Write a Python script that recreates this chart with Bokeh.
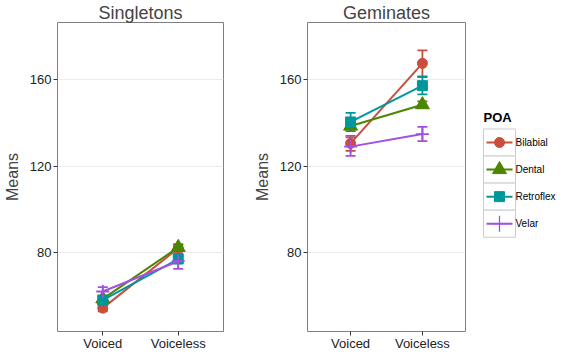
from bokeh.plotting import figure
from bokeh.layouts import row
from bokeh.models import Range1d, FixedTicker, Whisker, TeeHead, ColumnDataSource
from bokeh.embed import file_html
from bokeh.resources import INLINE
from bokeh.core.properties import value

# ---- data ----
voicing = ["Voiced", "Voiceless"]
poa = ["Bilabial", "Dental", "Retroflex", "Velar"]
colors = ["#C84E3E", "#4E8500", "#00979A", "#A34FE2"]
markers = ["circle", "triangle", "square", "cross"]
msizes = [10, 14, 10, 13]

sing_means = [[54.3, 82.0], [58.6, 82.4], [58.0, 77.0], [62.0, 76.0]]
sing_err = [[1.5, 1.5], [1.5, 1.5], [1.5, 1.5], [2.0, 3.5]]
gem_means = [[130.5, 167.5], [138.5, 148.4], [140.4, 157.2], [129.0, 134.8]]
gem_err = [[3.5, 6.0], [1.5, 1.5], [4.2, 4.0], [4.3, 3.3]]
y_ticks = [80, 120, 160]

FONT = "Liberation Sans"
xpos = [1, 2]


def panel(title, means, errs, frame_w, border_right):
    p = figure(frame_width=frame_w, frame_height=309, output_backend="svg", toolbar_location=None,
               x_range=Range1d(0.4, 2.6), y_range=Range1d(43.5, 186.4),
               min_border_left=55, min_border_right=border_right,
               min_border_top=19, min_border_bottom=18, title=title)
    p.title.text_font = FONT
    p.title.text_font_size = "18px"
    p.title.text_font_style = "normal"
    p.title.align = "center"
    p.title.standoff = 0
    p.title.offset = 0
    p.outline_line_color = "#7F7F7F"
    p.outline_line_width = 1
    p.xgrid.grid_line_color = None
    p.ygrid.grid_line_color = "#EBEBEB"
    p.ygrid.grid_line_width = 1
    p.xaxis.ticker = FixedTicker(ticks=xpos)
    p.xaxis.major_label_overrides = {1: voicing[0], 2: voicing[1]}
    p.yaxis.ticker = FixedTicker(ticks=y_ticks)
    p.yaxis.axis_label = "Means"
    for ax in (p.xaxis[0], p.yaxis[0]):
        ax.axis_line_color = None
        ax.major_tick_in = 0
        ax.major_tick_out = 4
        ax.minor_tick_in = 0
        ax.minor_tick_out = 0
        ax.major_tick_line_color = "#333333"
        ax.major_label_text_font = FONT
        ax.major_label_text_font_size = "13px"
        ax.major_label_text_color = "#222222"
        ax.axis_label_text_font = FONT
        ax.axis_label_text_font_size = "16px"
        ax.axis_label_text_font_style = "normal"
    p.yaxis.major_label_standoff = 2
    p.yaxis.axis_label_standoff = 6
    p.xaxis.major_label_standoff = 0
    p.xaxis.axis_label_standoff = 0
    for i in range(len(poa)):
        c = colors[i]
        src = ColumnDataSource(dict(x=xpos, y=means[i],
                                    upper=[m + e for m, e in zip(means[i], errs[i])],
                                    lower=[m - e for m, e in zip(means[i], errs[i])]))
        p.line("x", "y", source=src, line_color=c, line_width=2)
        w = Whisker(source=src, base="x", upper="upper", lower="lower",
                    line_color=c, line_width=1.8,
                    upper_head=TeeHead(size=10, line_color=c, line_width=1.8),
                    lower_head=TeeHead(size=10, line_color=c, line_width=1.8))
        p.add_layout(w)
        if markers[i] == "cross":
            p.scatter("x", "y", source=src, marker="cross", size=msizes[i],
                      line_color=c, line_width=1.8)
        else:
            p.scatter("x", "y", source=src, marker=markers[i], size=msizes[i],
                      fill_color=c, line_color=c)
    return p


p1 = panel("Singletons", sing_means, sing_err, 166, 27)
p2 = panel("Geminates", gem_means, gem_err, 158, 8)

# ---- legend panel ----
pl = figure(width=83, height=346, output_backend="svg", toolbar_location=None,
            x_range=Range1d(0, 83), y_range=Range1d(346, 0),
            min_border=0, min_border_left=0, min_border_right=0,
            min_border_top=0, min_border_bottom=0)
pl.axis.visible = False
pl.grid.visible = False
pl.outline_line_color = None
pl.background_fill_color = None
pl.border_fill_color = None

row_h = 31
top = 122
cx = 26
cy = [top + row_h * (i + 0.5) for i in range(len(poa))]
pl.text(x=[10], y=[top - 13], text=["POA"], text_font=value(FONT), text_font_size="13px",
        text_font_style="bold", text_baseline="middle", text_align="left", text_color="black")
pl.rect(x=[cx] * len(poa), y=cy, width=32, height=row_h, fill_color="white",
        line_color="#CCCCCC", line_width=1)
for i in range(len(poa)):
    c = colors[i]
    pl.segment(x0=[cx - 13], y0=[cy[i]], x1=[cx + 13], y1=[cy[i]], line_color=c, line_width=2)
    if markers[i] == "cross":
        pl.scatter(x=[cx], y=[cy[i]], marker="cross", size=16, line_color=c, line_width=1.3)
    else:
        pl.scatter(x=[cx], y=[cy[i]], marker=markers[i], size=msizes[i], fill_color=c, line_color=c)
pl.text(x=[cx + 16] * len(poa), y=cy, text=poa, text_font=value(FONT), text_font_size="10px",
        text_baseline="middle", text_align="left", text_color="black")

layout = row(p1, p2, pl)
open("out.html", "w").write(file_html(layout, INLINE))
